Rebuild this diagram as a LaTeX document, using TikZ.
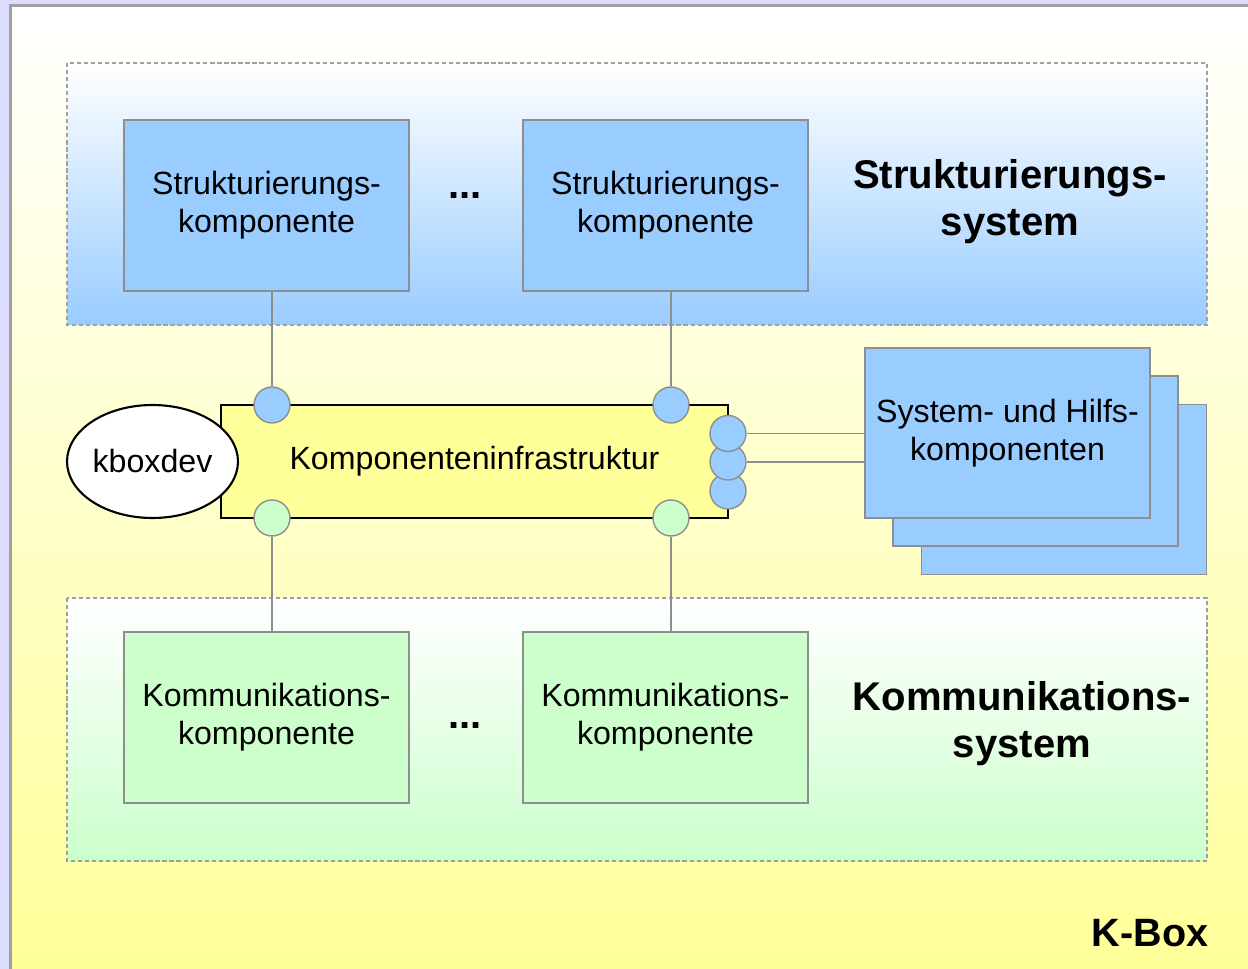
\documentclass[tikz,border=0pt]{standalone}
\usepackage{fontspec}
\setmainfont{Liberation Sans}
\usetikzlibrary{shapes.geometric}
\definecolor{lavender}{HTML}{DDDDFF}
\definecolor{kyellow}{HTML}{FFFF99}
\definecolor{kblue}{HTML}{99CCFF}
\definecolor{kgreen}{HTML}{CCFFCC}
\definecolor{frame}{HTML}{A0A0A0}
\definecolor{edge}{HTML}{8E8E8E}
\begin{document}
\begin{tikzpicture}[x=0.02cm,y=-0.02cm,
  comp/.style={rectangle,draw=edge,line width=0.8pt,minimum width=5.7cm,minimum height=3.42cm,
    inner sep=0pt,align=center,font=\fontsize{18.3}{21.5}\selectfont},
  bluecomp/.style={comp,fill=kblue},
  greencomp/.style={comp,fill=kgreen},
  port/.style={circle,draw=edge,line width=0.8pt,minimum size=0.72cm,inner sep=0pt},
  blueport/.style={port,fill=kblue},
  greenport/.style={port,fill=kgreen},
  wire/.style={draw=edge,line width=0.85pt},
  region/.style={draw=frame,line width=1.1pt,dash pattern=on 2.4pt off 1.6pt},
  title/.style={align=center,font=\bfseries\fontsize{22.8}{26.7}\selectfont},
  dots/.style={font=\bfseries\fontsize{22.8}{26.7}\selectfont}]
\useasboundingbox (0,0) rectangle (1248,969);
% outer background and K-Box panel
\fill[lavender] (0,0) rectangle (1248,969);
\shade[top color=white,bottom color=kyellow] (10,5) rectangle (1248,969);
\draw[frame,line width=1.2pt] (10.5,969) -- (10.5,5.5) -- (1248,5.5);
% subsystem regions
\shade[top color=white,bottom color=kblue] (67,63) rectangle (1207,325);
\draw[region] (67,63) rectangle (1207,325);
\shade[top color=white,bottom color=kgreen] (67,598) rectangle (1207,861);
\draw[region] (67,598) rectangle (1207,861);
% structuring components
\node[bluecomp] (s1) at (266.5,205.5) {Strukturierungs-\\komponente};
\node[bluecomp] (s2) at (665.5,205.5) {Strukturierungs-\\komponente};
\node[dots] (sd) at (465,196) {...};
\node[title] (st) at (1010,202) {Strukturierungs-\\system};
% communication components
\node[greencomp] (c1) at (266.5,717.5) {Kommunikations-\\komponente};
\node[greencomp] (c2) at (665.5,717.5) {Kommunikations-\\komponente};
\node[dots] (cd) at (465,726) {...};
\node[title] (ct) at (1022,724) {Kommunikations-\\system};
% system and helper components (stacked)
\node[bluecomp,minimum height=3.4cm] (h3) at (1064,489.5) {};
\node[bluecomp,minimum height=3.4cm] (h2) at (1035.5,461) {};
\node[bluecomp,minimum height=3.4cm] (h1) at (1007.5,433) {System- und Hilfs-\\komponenten};
% component infrastructure
\node[rectangle,draw=black,fill=kyellow,line width=1.4pt,minimum width=10.14cm,minimum height=2.26cm,
  inner sep=0pt,font=\fontsize{18.3}{21.5}\selectfont] (infra) at (474.5,461.5) {Komponenteninfrastruktur};
\node[ellipse,draw=black,fill=white,line width=1.2pt,minimum width=3.42cm,minimum height=2.26cm,
  inner sep=0pt,font=\fontsize{18.3}{21.5}\selectfont] (dev) at (152.5,461.5) {kboxdev};
% ports
\node[blueport] (ps1) at (272,405) {};
\node[blueport] (ps2) at (671,405) {};
\node[greenport] (pc1) at (272,518) {};
\node[greenport] (pc2) at (671,518) {};
\node[blueport] (ph3) at (728,491) {};
\node[blueport] (ph2) at (728,462) {};
\node[blueport] (ph1) at (728,433.5) {};
% connectors
\draw[wire] (ps1) -- (ps1 |- s1.south);
\draw[wire] (ps2) -- (ps2 |- s2.south);
\draw[wire] (pc1) -- (pc1 |- c1.north);
\draw[wire] (pc2) -- (pc2 |- c2.north);
\draw[wire] (ph1) -- (ph1 -| h1.west);
\draw[wire] (ph2) -- (ph2 -| h1.west);
% panel label
\node[font=\bfseries\fontsize{22.5}{26}\selectfont] (kbox) at (1150,933) {K-Box};
\end{tikzpicture}
\end{document}
